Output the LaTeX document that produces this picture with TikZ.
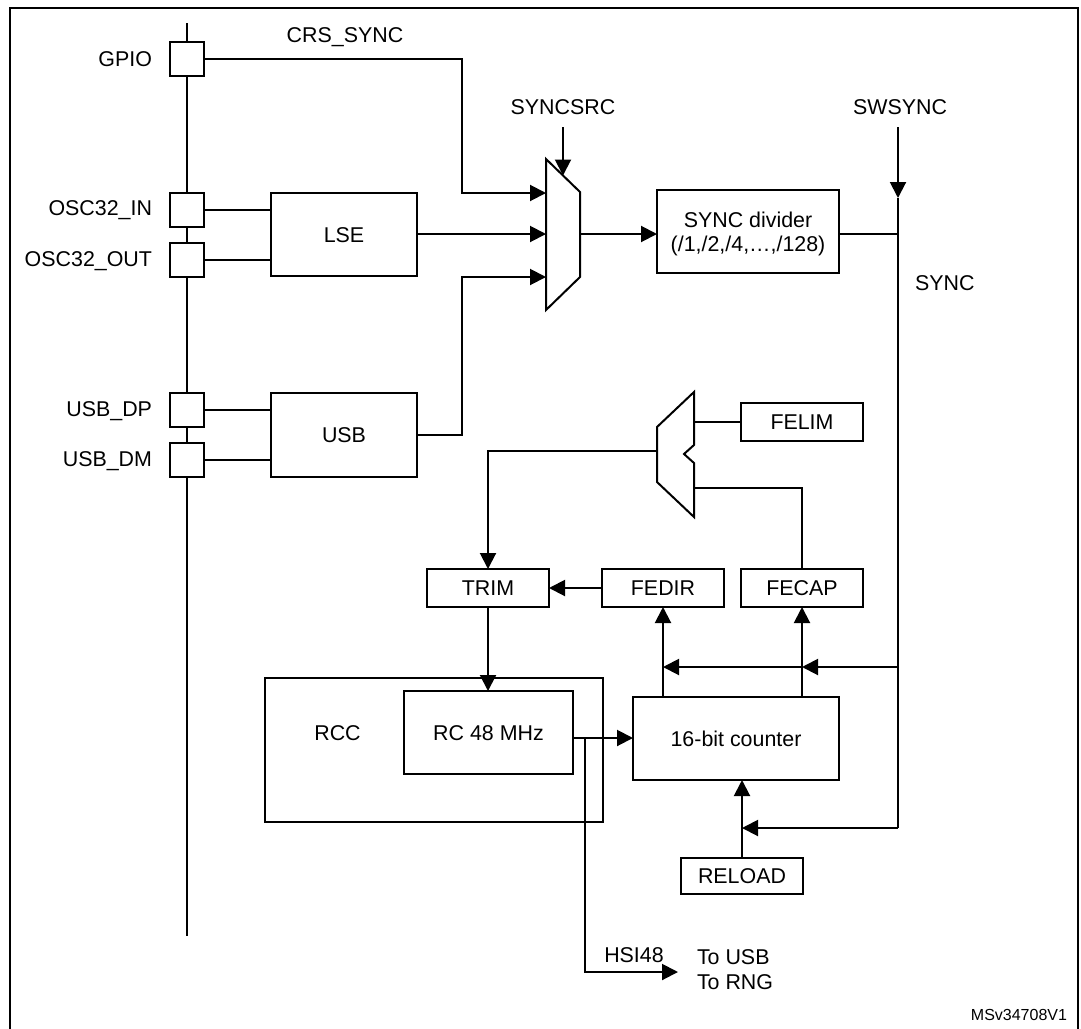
\documentclass[tikz,border=0pt]{standalone}
\usepackage{fontspec}
\setmainfont{Liberation Sans}
\usetikzlibrary{arrows.meta,calc}
\begin{document}
\begin{tikzpicture}[x=1pt,y=-1pt,
  every node/.style={inner sep=0pt,outer sep=0pt},
  lab/.style={font=\fontsize{21.4}{25}\selectfont,text height=15.3pt,text depth=0pt},
  small/.style={font=\fontsize{16}{19}\selectfont,text height=11.5pt,text depth=0pt},
  ln/.style={line width=2pt,line join=miter},
  arr/.style={ln,-{Triangle[length=16pt,width=16pt]}},
  box/.style={lab,draw,line width=2pt,fill=white},
  pad/.style={draw,line width=2pt,fill=white,minimum size=34pt}]
\useasboundingbox (0,0) rectangle (1081,1028);
% frame
\draw[line width=2pt] (10,1040) -- (10,8) -- (1078,8) -- (1078,1040);
% bus
\coordinate (bustop) at (187,23);
\coordinate (busbot) at (187,936);
\draw[ln] (bustop) -- (busbot);
% pads
\node[pad] (gpio) at (187,59) {};
\node[pad] (oscin) at (187,210) {};
\node[pad] (oscout) at (187,260) {};
\node[pad] (usbdp) at (187,410) {};
\node[pad] (usbdm) at (187,460) {};
\node[lab,anchor=east] (lgpio) at (152,59) {GPIO};
\node[lab,anchor=east] (loscin) at (152,208) {OSC32\_IN};
\node[lab,anchor=east] (loscout) at (152,258.7) {OSC32\_OUT};
\node[lab,anchor=east] (lusbdp) at (152,409) {USB\_DP};
\node[lab,anchor=east] (lusbdm) at (152,459) {USB\_DM};
\node[lab] (lcrs) at (345,34.5) {CRS\_SYNC};
% blocks
\node[box,minimum width=146pt,minimum height=83pt] (lse) at (344,234.5) {LSE};
\node[box,minimum width=146pt,minimum height=84pt] (usb) at (344,435) {USB};
\node[box,minimum width=182pt,minimum height=83pt] (div) at (748,231.5) {};
\node[lab] (divt1) at (748,219.7) {SYNC divider};
\node[lab] (divt2) at (748,244) {(/1,/2,/4,…,/128)};
\node[box,minimum width=122pt,minimum height=38pt] (felim) at (802,422) {FELIM};
\node[box,minimum width=122pt,minimum height=38pt] (fecap) at (802,588) {FECAP};
\node[box,minimum width=122pt,minimum height=38pt] (fedir) at (663,588) {FEDIR};
\node[box,minimum width=122pt,minimum height=38pt] (trim) at (488,588) {TRIM};
\node[box,minimum width=338pt,minimum height=144pt] (rcc) at (434,750) {};
\node[lab] (rcclab) at (337.5,732.5) {RCC};
\node[box,minimum width=169pt,minimum height=83pt] (rc) at (488.5,732.5) {RC 48 MHz};
\node[box,minimum width=206pt,minimum height=83pt] (counter) at (736,738.5) {16-bit counter};
\node[box,minimum width=122pt,minimum height=36pt] (reload) at (742,876) {RELOAD};
% muxes
\draw[ln] (546,159) -- (580,192) -- (580,277) -- (546,310) -- cycle;
\draw[ln] (694,392) -- (694,445) -- (684,454) -- (694,463) -- (694,517) -- (657,482) -- (657,427) -- cycle;
\coordinate (m1a) at (546,193);
\coordinate (m1b) at (546,234);
\coordinate (m1c) at (546,277);
\coordinate (m1sel) at (563,175.5);
\coordinate (m1out) at (580,234);
\coordinate (m2out) at (657,451);
\coordinate (m2lim) at (694,422);
\coordinate (m2cap) at (694,488);
% labels
\node[lab] (lsyncsrc) at (563,107) {SYNCSRC};
\node[lab] (lswsync) at (900,107) {SWSYNC};
\node[lab,anchor=west] (lsync) at (915,283) {SYNC};
\node[lab] (lhsi) at (634,954.5) {HSI48};
\node[lab,anchor=west] (ltousb) at (697,956.5) {To USB};
\node[lab,anchor=west] (ltorng) at (697,981.5) {To RNG};
\node[small,anchor=east] (lms) at (1067,1014.5) {MSv34708V1};
% coordinates
\coordinate (ssrc) at (563,127);
\coordinate (sw) at (898,127);
\coordinate (swtip) at (898,198);
\coordinate (syncmid) at (898,667);
\coordinate (syncbot) at (898,828);
\coordinate (rcout) at (573,738);
\coordinate (hsib) at (585,738);
\coordinate (hsitip) at (678,972);
% connectors
\draw[arr] (gpio.east) -- ++(258,0) |- (m1a);
\draw[ln] (oscin.east) -- (oscin.east -| lse.west);
\draw[ln] (oscout.east) -- (oscout.east -| lse.west);
\draw[arr] (lse.east |- m1b) -- (m1b);
\draw[ln] (usbdp.east) -- (usbdp.east -| usb.west);
\draw[ln] (usbdm.east) -- (usbdm.east -| usb.west);
\draw[arr] (usb.east) -- ++(45,0) |- (m1c);
\draw[arr] (ssrc) -- (m1sel);
\draw[arr] (m1out) -- (m1out -| div.west);
\draw[ln] (div.east |- m1out) -- (m1out -| sw);
\draw[arr] (sw) -- (swtip);
\draw[ln] (swtip) -- (syncbot);
\draw[arr] (syncbot) -- (syncbot -| reload.north);
\draw[arr] (syncmid) -- (syncmid -| fecap.south);
\draw[arr] (syncmid -| fecap.south) -- (syncmid -| fedir.south);
\draw[arr] (counter.north -| fedir.south) -- (fedir.south);
\draw[arr] (counter.north -| fecap.south) -- (fecap.south);
\draw[arr] (reload.north) -- (reload.north |- counter.south);
\draw[ln] (felim.west) -- (m2lim);
\draw[ln] (fecap.north) |- (m2cap);
\draw[arr] (m2out) -| (trim.north);
\draw[arr] (fedir.west) -- (fedir.west -| trim.east);
\draw[arr] (trim.south) -- (trim.south |- rc.north);
\draw[arr] (rcout) -- (rcout -| counter.west);
\draw[arr] (hsib) |- (hsitip);
\end{tikzpicture}
\end{document}
